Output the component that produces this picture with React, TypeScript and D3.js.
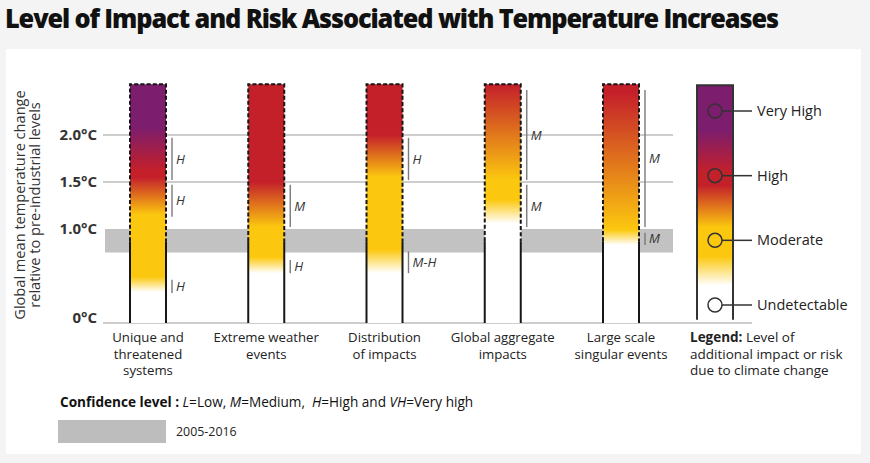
import React from "react";
import * as d3 from "d3";

const TITLE = "Level of Impact and Risk Associated with Temperature Increases";
const categoryKeys = ["unique", "extreme", "distribution", "global", "large"];
const categoryLabels = [
  ["Unique and", "threatened", "systems"],
  ["Extreme weather", "events"],
  ["Distribution", "of impacts"],
  ["Global aggregate", "impacts"],
  ["Large scale", "singular events"],
];
const yTicks = [0, 1.0, 1.5, 2.0];
const yTickLabels = ["0°C", "1.0°C", "1.5°C", "2.0°C"];
const yAxisTitle = ["Global mean temperature change", "relative to pre-industrial levels"];
const riskLevels = ["Undetectable", "Moderate", "High", "Very High"];
const riskColors = ["#ffffff", "#fcc80f", "#c4202a", "#7c1d6d"];
const barTop = 2.54;
const observedWarming = 0.87;
const recentBand = [0.75, 1.0];
const recentLabel = "2005-2016";

// risk transitions per category: [temperature °C, risk level index]
const uniqueStops = [[0.33, 0], [0.49, 1], [1.15, 1], [1.55, 2], [1.62, 2], [2.08, 3]];
const extremeStops = [[0.53, 0], [0.7, 1], [1.02, 1], [1.5, 2]];
const distributionStops = [[0.53, 0], [0.78, 1], [1.55, 1], [2.0, 2]];
const globalStops = [[1.06, 0], [1.31, 1], [1.52, 1], [2.53, 2]];
const largeStops = [[0.83, 0], [0.99, 1], [2.45, 2]];
const barStops = [uniqueStops, extremeStops, distributionStops, globalStops, largeStops];

// confidence ranges: [bar index, from °C, to °C, label]
const confidence: [number, number, number, string][] = [
  [0, 1.52, 1.97, "H"],
  [0, 1.13, 1.47, "H"],
  [0, 0.32, 0.46, "H"],
  [1, 1.02, 1.47, "M"],
  [1, 0.53, 0.67, "H"],
  [2, 1.52, 1.97, "H"],
  [2, 0.53, 0.76, "M-H"],
  [3, 1.52, 2.48, "M"],
  [3, 1.02, 1.47, "M"],
  [4, 1.02, 2.48, "M"],
  [4, 0.83, 0.96, "M"],
];

// legend gradient in risk-level units: [level position, risk level index]
const legendStops = [[-0.23, 0], [0.3, 0], [0.75, 1], [1.2, 1], [1.85, 2], [2.05, 2], [2.7, 3], [3.4, 3]];
const legendLevels = [3, 2, 1, 0];

const W = 870;
const H = 463;
const FONT = "'Open Sans', 'DejaVu Sans', sans-serif";

export default function App() {
  const y = d3.scaleLinear().domain([0, 2]).range([323, 135]);
  const x = d3.scalePoint<string>().domain(categoryKeys).range([148, 621]);
  const barW = 36;
  const gridX0 = 103;
  const gridX1 = 673;
  const legendY = d3.scaleLinear().domain([0, 3]).range([305, 111]);
  const legendX = 697;
  const legendW = 36;
  const legendCx = legendX + legendW / 2;

  return (
    <div style={{ position: "fixed", left: 0, top: 0 }}>
      <svg width={W} height={H} style={{ display: "block", fontFamily: FONT }}>
        <defs>
          {barStops.map((stops, i) => (
            <linearGradient
              key={i}
              id={`bar-grad-${i}`}
              gradientUnits="userSpaceOnUse"
              x1={0}
              x2={0}
              y1={y(0)}
              y2={y(barTop)}
            >
              <stop offset={0} stopColor={riskColors[stops[0][1]]} />
              {stops.map((s, j) => (
                <stop key={j} offset={s[0] / barTop} stopColor={riskColors[s[1]]} />
              ))}
              <stop offset={1} stopColor={riskColors[stops[stops.length - 1][1]]} />
            </linearGradient>
          ))}
          <linearGradient
            id="legend-grad"
            gradientUnits="userSpaceOnUse"
            x1={0}
            x2={0}
            y1={legendY(legendStops[0][0])}
            y2={legendY(legendStops[legendStops.length - 1][0])}
          >
            {legendStops.map((s, j) => (
              <stop
                key={j}
                offset={(s[0] - legendStops[0][0]) / (legendStops[legendStops.length - 1][0] - legendStops[0][0])}
                stopColor={riskColors[s[1]]}
              />
            ))}
          </linearGradient>
        </defs>

        <rect x={0} y={0} width={W} height={H} fill="#f4f4f4" />
        <rect x={6} y={49} width={855} height={405} fill="#ffffff" />

        <text
          x={5}
          y={28}
          fontSize={27}
          fontWeight={800}
          fill="#111"
          textLength={773}
          lengthAdjust="spacingAndGlyphs"
          letterSpacing={-1.2}
        >
          {TITLE}
        </text>

        {/* grid lines */}
        {yTicks.filter((t) => t > 1).map((t) => (
          <line key={t} x1={gridX0} x2={gridX1} y1={y(t)} y2={y(t)} stroke="#bdbdbd" strokeWidth={1.5} />
        ))}
        <line x1={gridX0} x2={752} y1={y(0)} y2={y(0)} stroke="#bdbdbd" strokeWidth={1.5} />
        <rect
          x={gridX0 + 2}
          y={y(recentBand[1])}
          width={gridX1 - gridX0 - 2}
          height={y(recentBand[0]) - y(recentBand[1])}
          fill="#c2c2c2"
        />

        {/* bars */}
        {categoryKeys.map((k, i) => {
          const x0 = (x(k) as number) - barW / 2;
          const x1 = x0 + barW;
          const yTop = y(barTop);
          const yObs = y(observedWarming);
          return (
            <g key={k}>
              <rect x={x0} y={yTop} width={barW} height={y(0) - yTop} fill={`url(#bar-grad-${i})`} />
              <path
                d={`M${x0},${yObs}V${yTop}H${x1}V${yObs}`}
                fill="none"
                stroke="#161616"
                strokeWidth={2}
                strokeDasharray="4 2.2"
              />
              <line x1={x0} x2={x0} y1={yObs} y2={y(0)} stroke="#161616" strokeWidth={2} />
              <line x1={x1} x2={x1} y1={yObs} y2={y(0)} stroke="#161616" strokeWidth={2} />
            </g>
          );
        })}

        {/* confidence marks */}
        {confidence.map(([bi, from, to, label], j) => {
          const lx = (x(categoryKeys[bi]) as number) + barW / 2 + 6;
          return (
            <g key={j}>
              <line x1={lx} x2={lx} y1={y(from)} y2={y(to)} stroke="#7a7a7a" strokeWidth={1.4} />
              <text
                x={lx + 4}
                y={(y(from) + y(to)) / 2}
                dy="0.35em"
                fontSize={13}
                fontStyle="italic"
                fill="#333"
              >
                {label}
              </text>
            </g>
          );
        })}

        {/* y tick labels */}
        {yTicks.map((t, i) => (
          <text
            key={t}
            x={97}
            y={y(t) - (t === 0 ? 5 : 0)}
            dy="0.35em"
            textAnchor="end"
            fontSize={15}
            fontWeight={700}
            fill="#333"
          >
            {yTickLabels[i]}
          </text>
        ))}

        {/* y axis title */}
        {yAxisTitle.map((line, i) => (
          <text
            key={i}
            transform={`translate(${25 + i * 15},205) rotate(-90)`}
            textAnchor="middle"
            fontSize={14.6}
            fill="#333"
          >
            {line}
          </text>
        ))}

        {/* category labels */}
        {categoryKeys.map((k, i) => (
          <text key={k} textAnchor="middle" fontSize={13.2} fill="#222">
            {categoryLabels[i].map((ln, j) => (
              <tspan key={j} x={x(k) as number} y={342 + j * 16.5}>
                {ln}
              </tspan>
            ))}
          </text>
        ))}

        {/* legend */}
        <rect
          x={legendX}
          y={legendY(legendStops[legendStops.length - 1][0])}
          width={legendW}
          height={legendY(legendStops[0][0]) - legendY(legendStops[legendStops.length - 1][0])}
          fill="url(#legend-grad)"
        />
        <path
          d={`M${legendX},${legendY(legendStops[0][0])}V${legendY(legendStops[legendStops.length - 1][0])}H${legendX + legendW}V${legendY(legendStops[0][0])}`}
          fill="none"
          stroke="#333"
          strokeWidth={2}
        />
        {legendLevels.map((lv) => (
          <g key={lv}>
            <line x1={legendCx + 7} x2={752} y1={legendY(lv)} y2={legendY(lv)} stroke="#333" strokeWidth={1.5} />
            <circle cx={legendCx} cy={legendY(lv)} r={7} fill="none" stroke="#333" strokeWidth={1.5} />
            <text x={757} y={legendY(lv)} dy="0.35em" fontSize={14.5} fill="#222">
              {riskLevels[lv]}
            </text>
          </g>
        ))}
        <text fontSize={13.5} fill="#222">
          <tspan x={690} y={342}>
            <tspan fontWeight={700}>Legend:</tspan> Level of
          </tspan>
          <tspan x={690} y={358.5}>additional impact or risk</tspan>
          <tspan x={690} y={375}>due to climate change</tspan>
        </text>

        {/* confidence note */}
        <text x={60} y={407} fontSize={13.6} fill="#111" style={{ whiteSpace: "pre" }}>
          <tspan fontWeight={700}>Confidence level : </tspan>
          <tspan fontStyle="italic">L</tspan>
          <tspan>=Low, </tspan>
          <tspan fontStyle="italic">M</tspan>
          <tspan>=Medium,{"\u00a0\u00a0"}</tspan>
          <tspan fontStyle="italic">H</tspan>
          <tspan>=High and </tspan>
          <tspan fontStyle="italic">VH</tspan>
          <tspan>=Very high</tspan>
        </text>
        <rect x={58} y={420} width={108} height={23} fill="#bdbdbd" />
        <text x={176} y={432} dy="0.35em" fontSize={12.4} fill="#222">
          {recentLabel}
        </text>
      </svg>
    </div>
  );
}
